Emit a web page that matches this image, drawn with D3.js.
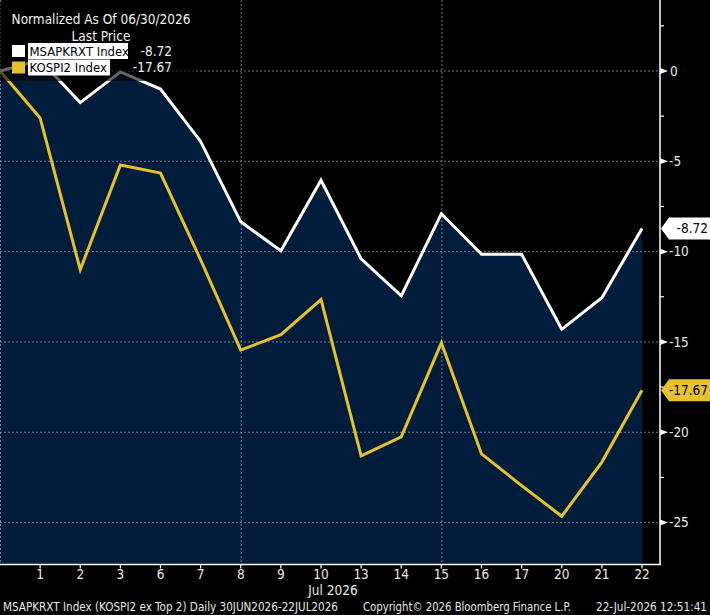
<!DOCTYPE html>
<html>
<head>
<meta charset="utf-8">
<script src="https://cdn.jsdelivr.net/npm/d3@7"></script>
<style>
  html, body { margin: 0; padding: 0; background: #000; }
  svg { display: block; }
  text { font-family: "DejaVu Sans Condensed", "Liberation Sans Narrow", "Roboto Condensed", sans-serif; font-stretch: condensed; }
</style>
</head>
<body>
<div id="chart"></div>
<script>
// trading days, 30 Jun 2026 - 22 Jul 2026
const days = ["30", "1", "2", "3", "6", "7", "8", "9", "10", "13", "14", "15", "16", "17", "20", "21", "22"];
// normalized to 06/30/2026
const msapkrxt = [0, 0.6, -1.75, -0.05, -1.0, -3.9, -8.35, -9.95, -6.05, -10.4, -12.45, -7.9, -10.15, -10.15, -14.3, -12.55, -8.72];
const kospi2 = [0, -2.6, -11.0, -5.2, -5.65, -10.45, -15.45, -14.6, -12.65, -21.3, -20.25, -15.05, -21.2, -22.95, -24.65, -21.65, -17.67];
const yTicks = [0, -5, -10, -15, -20, -25];
const yMinor = [2.5, -2.5, -7.5, -12.5, -17.5, -22.5];
const gridDays = ["30", "8", "15"];

const W = 710, H = 615;
const plotRight = 660, plotBottom = 564.5, dataRight = 642;
const navy = "#021d3b", gold = "#e5c22a";

const svg = d3.select("#chart").append("svg").attr("width", W).attr("height", H);
svg.append("rect").attr("width", W).attr("height", H).attr("fill", "#000");

const x = d3.scalePoint().domain(days).range([0, dataRight]);
const y = d3.scaleLinear().domain([-27.32, 3.93]).range([plotBottom, 0]);

// area under the white series
const area = d3.area()
  .x((d, i) => x(days[i]))
  .y0(plotBottom)
  .y1((d) => y(d));
svg.append("path").datum(msapkrxt).attr("d", area).attr("fill", navy);

// grid
svg.append("g").selectAll("line").data(yTicks).join("line")
  .attr("x1", 0).attr("x2", plotRight)
  .attr("y1", (d) => y(d)).attr("y2", (d) => y(d))
  .attr("stroke", "#8a96a6").attr("stroke-width", 0.8).attr("stroke-dasharray", "2,2");
svg.append("g").selectAll("line").data(gridDays).join("line")
  .attr("x1", (d) => x(d) + 0.5).attr("x2", (d) => x(d) + 0.5)
  .attr("y1", 0).attr("y2", plotBottom)
  .attr("stroke", "#8a96a6").attr("stroke-width", 0.8).attr("stroke-dasharray", "2,2");

// lines
const line = d3.line().x((d, i) => x(days[i])).y((d) => y(d));
svg.append("path").datum(kospi2).attr("d", line)
  .attr("fill", "none").attr("stroke", gold).attr("stroke-width", 3).attr("stroke-linejoin", "miter");
svg.append("path").datum(msapkrxt).attr("d", line)
  .attr("fill", "none").attr("stroke", "#fff").attr("stroke-width", 3).attr("stroke-linejoin", "miter");

// right axis
const ra = svg.append("g");
ra.append("line").attr("x1", plotRight).attr("x2", plotRight).attr("y1", 0).attr("y2", plotBottom)
  .attr("stroke", "#fff").attr("stroke-width", 1.5);
ra.selectAll(".minor").data(yMinor).join("line").attr("class", "minor")
  .attr("x1", plotRight).attr("x2", plotRight + 4)
  .attr("y1", (d) => y(d)).attr("y2", (d) => y(d))
  .attr("stroke", "#fff").attr("stroke-width", 1.2);
ra.selectAll(".tri").data(yTicks).join("path").attr("class", "tri")
  .attr("d", (d) => `M${plotRight},${y(d) - 3}L${plotRight + 8},${y(d)}L${plotRight},${y(d) + 3}Z`)
  .attr("fill", "#fff");
ra.selectAll(".lbl").data(yTicks).join("text").attr("class", "lbl")
  .attr("x", (d) => (d === 0 ? plotRight + 10 : plotRight + 9)).attr("y", (d) => y(d))
  .attr("dy", "0.36em").attr("fill", "#e8e8e8").attr("font-size", 13.5)
  .text((d) => (d === 0 ? "0" : "-" + Math.abs(d)));

// last value tags
const tags = [
  { v: msapkrxt[msapkrxt.length - 1], bg: "#fff" },
  { v: kospi2[kospi2.length - 1], bg: gold }
];
const tg = svg.append("g").selectAll("g").data(tags).join("g")
  .attr("transform", (d) => `translate(${plotRight + 1},${y(d.v)})`);
tg.append("path").attr("d", "M0,0L8,-11H49V11H8Z").attr("fill", (d) => d.bg);
tg.append("text").attr("x", 47).attr("dy", "0.36em").attr("text-anchor", "end")
  .attr("font-size", 13.5).attr("fill", "#000").text((d) => d.v.toFixed(2));

// bottom axis
const xa = svg.append("g");
xa.append("line").attr("x1", 0).attr("x2", plotRight + 1).attr("y1", plotBottom).attr("y2", plotBottom)
  .attr("stroke", "#fff").attr("stroke-width", 1.5);
xa.selectAll(".tk").data(days.slice(1)).join("line").attr("class", "tk")
  .attr("x1", (d) => x(d)).attr("x2", (d) => x(d))
  .attr("y1", plotBottom).attr("y2", plotBottom + 4)
  .attr("stroke", "#fff").attr("stroke-width", 1.2);
xa.selectAll(".xl").data(days.slice(1)).join("text").attr("class", "xl")
  .attr("x", (d) => x(d)).attr("y", 579).attr("text-anchor", "middle")
  .attr("fill", "#e8e8e8").attr("font-size", 13.5).text((d) => d);
xa.append("text").attr("x", x("10") + 12).attr("y", 595).attr("text-anchor", "middle")
  .attr("fill", "#e8e8e8").attr("font-size", 13.5).text("Jul 2026");

// footer
const ft = svg.append("g").attr("fill", "#e8e8e8").attr("font-size", 12);
ft.append("text").attr("x", 3).attr("y", 611).attr("textLength", 335).attr("lengthAdjust", "spacingAndGlyphs")
  .text("MSAPKRXT Index (KOSPI2 ex Top 2) Daily 30JUN2026-22JUL2026");
ft.append("text").attr("x", 363).attr("y", 611).attr("textLength", 208).attr("lengthAdjust", "spacingAndGlyphs")
  .text("Copyright\u00a9 2026 Bloomberg Finance L.P.");
ft.append("text").attr("x", 596).attr("y", 611).attr("textLength", 111).attr("lengthAdjust", "spacingAndGlyphs")
  .text("22-Jul-2026 12:51:41");

// legend
const lg = svg.append("g");
lg.append("rect").attr("x", -4).attr("y", 4).attr("width", 200).attr("height", 77).attr("rx", 4)
  .attr("fill", "#000").attr("fill-opacity", 0.6);
lg.append("text").attr("x", 101).attr("y", 24).attr("text-anchor", "middle")
  .attr("fill", "#f0f0f0").attr("font-size", 13.5).text("Normalized As Of 06/30/2026");
lg.append("text").attr("x", 101).attr("y", 41).attr("text-anchor", "middle")
  .attr("fill", "#f0f0f0").attr("font-size", 13.5).text("Last Price");
const legendRows = [
  { name: "MSAPKRXT Index", v: msapkrxt[msapkrxt.length - 1], c: "#fff", w: 100 },
  { name: "KOSPI2 Index", v: kospi2[kospi2.length - 1], c: gold, w: 82 }
];
const lr = lg.selectAll(".row").data(legendRows).join("g").attr("class", "row")
  .attr("transform", (d, i) => `translate(0,${51 + i * 16.5})`);
lr.append("rect").attr("x", 12).attr("y", -6).attr("width", 13).attr("height", 12).attr("fill", (d) => d.c);
lr.append("rect").attr("x", 28).attr("y", -8).attr("width", (d) => d.w).attr("height", 16).attr("fill", "#fff");
lr.append("text").attr("x", 29.5).attr("dy", "0.36em").attr("fill", "#000").attr("font-size", 13).text((d) => d.name);
lr.append("text").attr("x", 172).attr("dy", "0.36em").attr("text-anchor", "end")
  .attr("fill", "#f0f0f0").attr("font-size", 13.5).text((d) => d.v.toFixed(2));
</script>
</body>
</html>
